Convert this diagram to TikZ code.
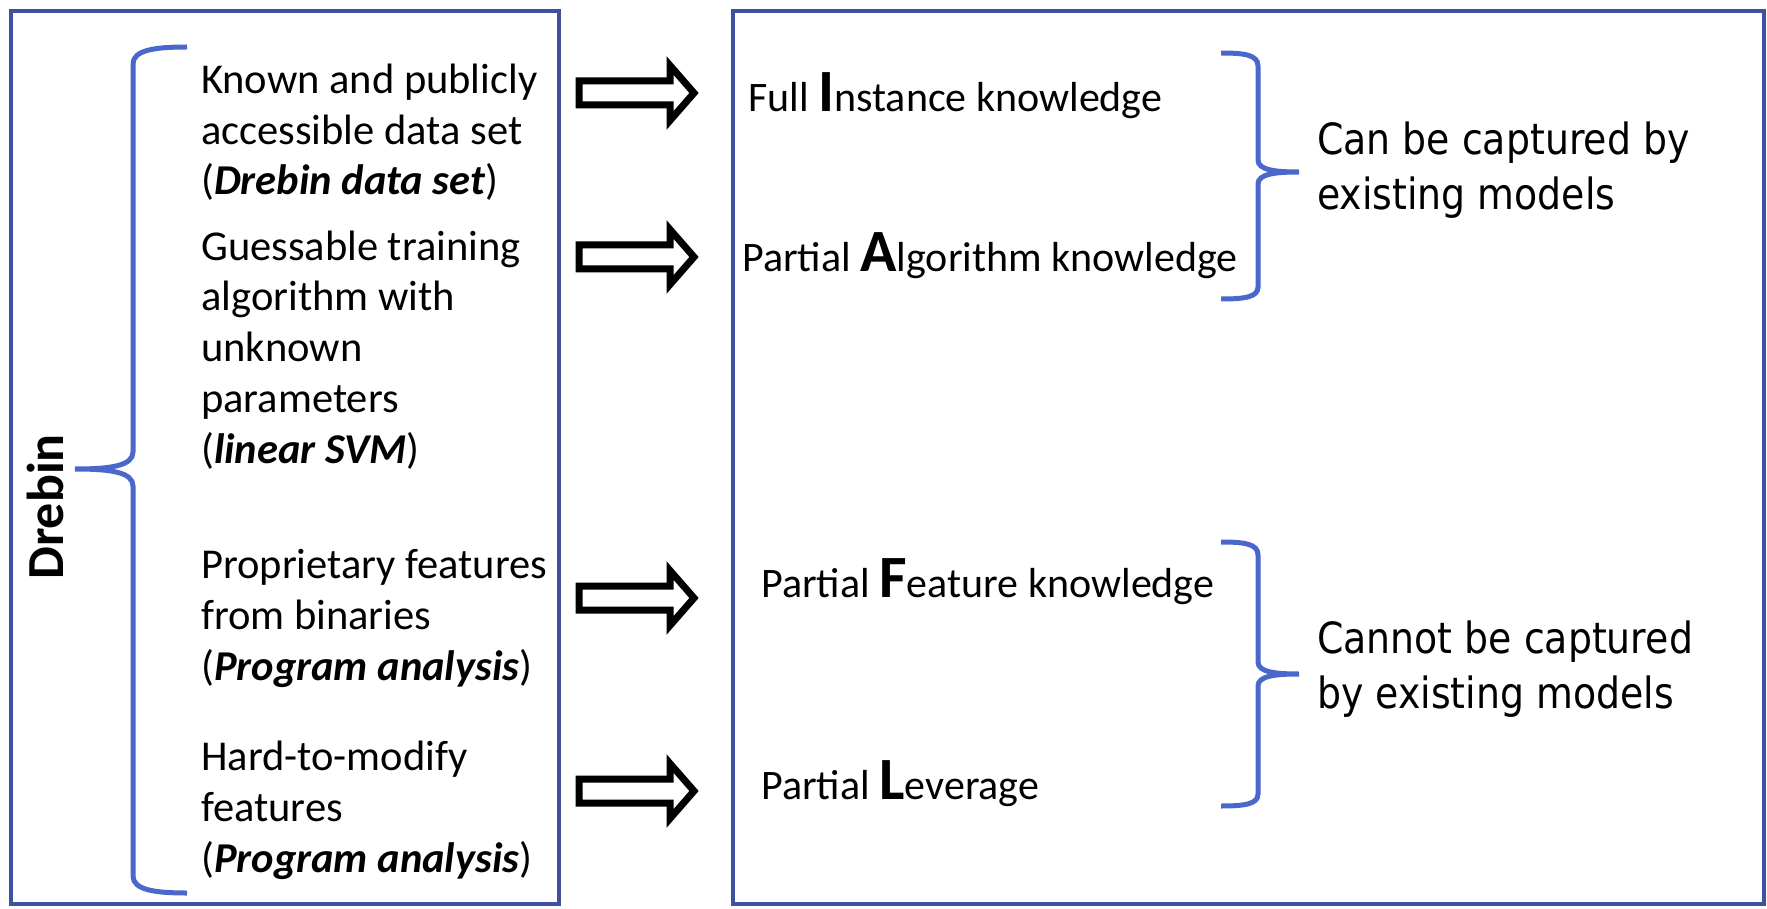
\documentclass[tikz,border=0pt]{standalone}
\usepackage{fontspec}
\setmainfont{Carlito}
\newfontfamily\capfont{DejaVu Sans}[FakeStretch=0.88]
\definecolor{boxblue}{RGB}{63,81,158}
\definecolor{braceblue}{RGB}{74,104,204}
\newcommand\initial[1]{{\fontsize{60}{60}\selectfont\bfseries #1}}
\begin{document}
\begin{tikzpicture}[x=1pt,y=-1pt,
  panel/.style={draw=boxblue, line width=4.5pt},
  brace/.style={draw=braceblue, line width=5pt},
  % multi-line nodes are placed by the baseline of their last line
  item/.style={anchor=base west, inner sep=0pt, align=left, font=\fontsize{42.5}{50.75}\selectfont},
  know/.style={anchor=base west, inner sep=0pt, font=\fontsize{42}{50}\selectfont},
  verdict/.style={anchor=base west, inner sep=0pt, align=left, font=\capfont\fontsize{43}{55}\selectfont},
  arrowline/.style={draw=black, fill=white, line width=7pt, line join=miter},
  blockarrow/.pic={\path[arrowline] (-57,-12) -- (34,-12) -- (34,-27.5) -- (58,0) -- (34,27.5) -- (34,12) -- (-57,12) -- cycle;}
]
\useasboundingbox (0,0) rectangle (1767,909);

% the two panels
\draw[panel] (11,11) rectangle (559,904);
\draw[panel] (733,11) rectangle (1764,904);

% left brace grouping the Drebin properties
\draw[brace] (187,47) .. controls (155,47) and (133,50) .. (133,64) -- (133,452)
  .. controls (133,466) and (110,469) .. (75,469)
  .. controls (110,469) and (133,472) .. (133,486) -- (133,876)
  .. controls (133,890) and (155,893) .. (187,893);

\node[rotate=90, anchor=base, inner sep=0pt, font=\fontsize{52}{60}\selectfont\bfseries] (drebin) at (63,507) {Drebin};

% properties of the system
\node[item] (data) at (201,195) {Known and publicly\\accessible data set\\(\textbf{\textit{Drebin data set}})};
\node[item] (algo) at (201,463) {Guessable training\\algorithm with\\unknown\\parameters\\(\textbf{\textit{linear SVM}})};
\node[item] (feat) at (201,680) {Proprietary features\\from binaries\\(\textbf{\textit{Program analysis}})};
\node[item] (lev) at (201,872) {Hard-to-modify\\features\\(\textbf{\textit{Program analysis}})};

% implications
\pic at (636,93) {blockarrow};
\pic at (636,257) {blockarrow};
\pic at (636,598) {blockarrow};
\pic at (636,791) {blockarrow};

\node[know] (fi) at (748,112) {Full \initial{I}nstance knowledge};
\node[know] (pa) at (742,272) {Partial \initial{A}lgorithm knowledge};
\node[know] (pf) at (761,597) {Partial \initial{F}eature knowledge};
\node[know] (pl) at (761,799) {Partial \initial{L}everage};

% right braces
\draw[brace] (1221,53) .. controls (1245,53) and (1258,55) .. (1258,66) -- (1258,160)
  .. controls (1258,170) and (1275,172) .. (1299,172)
  .. controls (1275,172) and (1258,174) .. (1258,184) -- (1258,287)
  .. controls (1258,297) and (1245,299) .. (1221,299);
\draw[brace] (1221,542) .. controls (1245,542) and (1258,544) .. (1258,555) -- (1258,662)
  .. controls (1258,672) and (1275,674) .. (1299,674)
  .. controls (1275,674) and (1258,676) .. (1258,686) -- (1258,794)
  .. controls (1258,804) and (1245,806) .. (1221,806);

\node[verdict] (can) at (1317,210) {Can be captured by\\existing models};
\node[verdict] (cannot) at (1317,708) {Cannot be captured\\by existing models};
\end{tikzpicture}
\end{document}
